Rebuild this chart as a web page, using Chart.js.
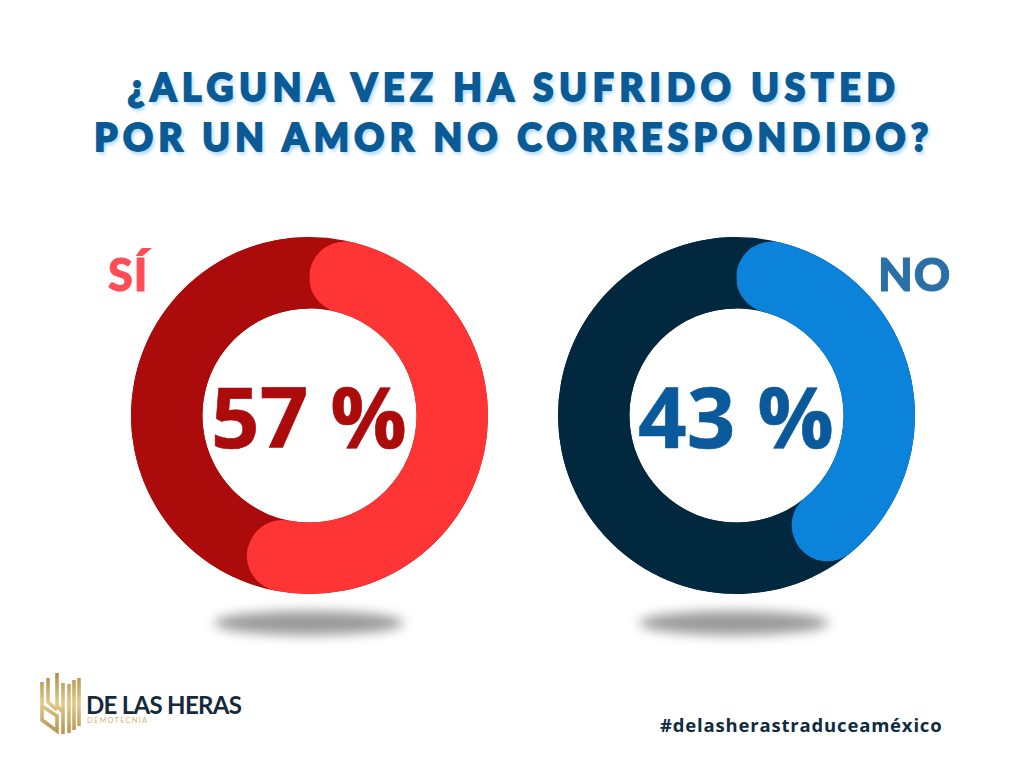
<!DOCTYPE html>
<html>
<head>
<meta charset="utf-8">
<script src="https://cdn.jsdelivr.net/npm/chart.js@4"></script>
<style>
  html, body { margin: 0; padding: 0; background: #fff; }
  #page { position: relative; width: 1024px; height: 768px; overflow: hidden; background: #fff; }
  #page > * { position: absolute; }
  .title {
    left: 2px; width: 1024px; text-align: center; white-space: nowrap;
    font: 900 37px Lato, sans-serif; color: #0a5a96; line-height: 44px;
    -webkit-text-stroke: 2px #0a5a96; stroke-linejoin: round;
    text-shadow: 2px 3px 4px rgba(120, 190, 240, 0.75);
  }
  .big { font: 700 85px "Open Sans", sans-serif; line-height: 100px; white-space: nowrap; text-align: center; -webkit-text-stroke: 0.6px currentColor; }
  .tag { font-family: Lato, sans-serif; font-weight: 900; font-size: 45px; line-height: 50px; white-space: nowrap; -webkit-text-stroke: 1px currentColor; letter-spacing: 1px; }
  .shadow { width: 190px; height: 24px; border-radius: 50%; background: #9a9a9a; filter: blur(6px); }
  canvas { display: block; }
</style>
</head>
<body>
<div id="page">
  <div class="title" style="top:65px;letter-spacing:5.9px">¿ALGUNA VEZ HA SUFRIDO USTED</div>
  <div class="title" style="top:115px;letter-spacing:5.45px">POR UN AMOR NO CORRESPONDIDO?</div>

  <div class="shadow" style="left:214px;top:611px"></div>
  <div class="shadow" style="left:639px;top:611px"></div>

  <canvas id="chartSi" style="left:131px;top:237px"></canvas>
  <canvas id="chartNo" style="left:558px;top:237px"></canvas>

  <div class="big" style="left:159px;width:300px;top:365px;color:#ac0b0b">57 %</div>
  <div class="big" style="left:586px;width:300px;top:365px;color:#0a5a9b">43 %</div>

  <div class="tag" style="left:108px;top:249px;color:#ff4d55">SÍ</div>
  <div class="tag" style="left:878px;top:249px;color:#2a6fa8">NO</div>

  <svg style="left:36px;top:668px" width="52" height="70" fill="none" stroke="url(#gold)" stroke-width="3.6">
    <defs>
      <linearGradient id="gold" gradientUnits="userSpaceOnUse" x1="0" y1="0" x2="0" y2="70">
        <stop offset="0" stop-color="#a8843f"/><stop offset="0.5" stop-color="#e2c88a"/><stop offset="1" stop-color="#b08c48"/>
      </linearGradient>
    </defs>
    <path d="M6 14V52L21 63V48L6 38"/>
    <path d="M12 10V34L21 42"/>
    <path d="M21 5V38L27 44"/>
    <path d="M27 15V66"/>
    <path d="M33 16V65"/>
    <path d="M38 12V62"/>
    <path d="M43 10V58"/>
  </svg>
  <div style="left:86px;top:690px;font:700 24px Lato,sans-serif;letter-spacing:-0.7px;color:#15293d;white-space:nowrap">DE LAS HERAS</div>
  <div style="left:87px;top:716px;font:400 7.5px Lato,sans-serif;letter-spacing:1.2px;color:#d4b67a;white-space:nowrap">DEMOTECNIA</div>

  <div style="left:660px;top:712px;font:700 18.5px 'Open Sans',sans-serif;letter-spacing:0.82px;color:#0e2c42;white-space:nowrap">#delasherastraduceaméxico</div>
</div>

<script>
const siValues = [57, 43]
const noValues = [43, 57]
const siColors = ['#ff3535', '#ac0b0b']
const noColors = ['#0c83db', '#02283f']

// full dark ring under the slices, so the rounded ends sit on top of it
const ringUnder = {
    id: 'ringUnder',
    beforeDatasetsDraw(chart, args, opts) {
        const arc = chart.getDatasetMeta(0).data[0]
        const ctx = chart.ctx
        ctx.save()
        ctx.fillStyle = opts.color
        ctx.beginPath()
        ctx.arc(arc.x, arc.y, arc.outerRadius, 0, Math.PI * 2)
        ctx.arc(arc.x, arc.y, arc.innerRadius, 0, Math.PI * 2, true)
        ctx.fill()
        ctx.restore()
    }
}

const makeDonut = (id, values, colors) => {
    const canvas = document.getElementById(id)
    canvas.width = 357
    canvas.height = 357
    return new Chart(canvas, {
        type: 'doughnut',
        data: {
            labels: ['Sí', 'No'],
            datasets: [{
                data: values,
                backgroundColor: colors,
                borderWidth: 0,
                borderRadius: [36, 0]
            }]
        },
        options: {
            responsive: false,
            animation: false,
            cutout: '60%',
            plugins: {
                legend: { display: false },
                tooltip: { enabled: false },
                ringUnder: { color: colors[1] }
            }
        },
        plugins: [ringUnder]
    })
}

makeDonut('chartSi', siValues, siColors)
makeDonut('chartNo', noValues, noColors)
</script>
</body>
</html>
